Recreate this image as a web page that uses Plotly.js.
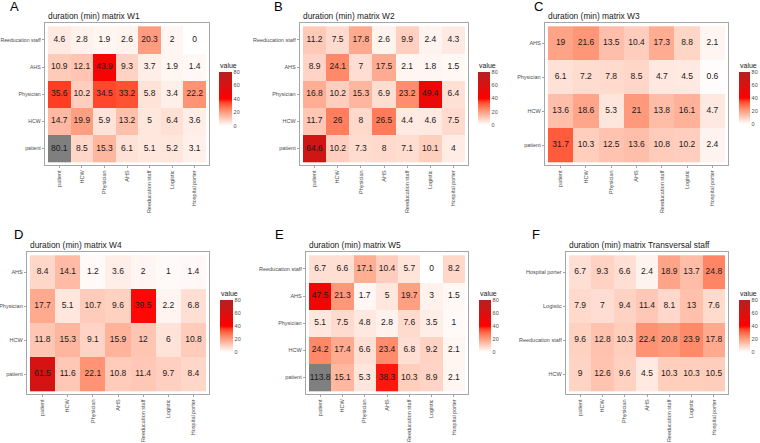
<!DOCTYPE html>
<html>
<head>
<meta charset="utf-8">
<script src="https://cdn.plot.ly/plotly-3.0.1.min.js"></script>
<style>html,body{margin:0;padding:0;background:#fff;}#chart{width:760px;height:443px;}</style>
</head>
<body>
<div id="chart"></div>
<script>
// ---------- DATA ----------
const xCats = ['patient', 'HCW', 'Physician', 'AHS', 'Reeducation staff', 'Logistic', 'Hospital porter'];

// rows listed bottom -> top
const rowsW1 = ['patient', 'HCW', 'Physician', 'AHS', 'Reeducation staff'];
const valsW1 = [
  [80.1, 8.5, 15.3, 6.1, 5.1, 5.2, 3.1],
  [14.7, 19.9, 5.9, 13.2, 5, 6.4, 3.6],
  [35.6, 10.2, 34.5, 33.2, 5.8, 3.4, 22.2],
  [10.9, 12.1, 43.9, 9.3, 3.7, 1.9, 1.4],
  [4.6, 2.8, 1.9, 2.6, 20.3, 2, 0]
];

const rowsW2 = ['patient', 'HCW', 'Physician', 'AHS', 'Reeducation staff'];
const valsW2 = [
  [64.6, 10.2, 7.3, 8, 7.1, 10.1, 4],
  [11.7, 26, 8, 26.5, 4.4, 4.6, 7.5],
  [16.8, 10.2, 15.3, 6.9, 23.2, 49.4, 6.4],
  [8.9, 24.1, 7, 17.5, 2.1, 1.8, 1.5],
  [11.2, 7.5, 17.8, 2.6, 9.9, 2.4, 4.3]
];

const rowsW3 = ['patient', 'HCW', 'Physician', 'AHS'];
const valsW3 = [
  [31.7, 10.3, 12.5, 13.6, 10.8, 10.2, 2.4],
  [13.6, 18.6, 5.3, 21, 13.8, 16.1, 4.7],
  [6.1, 7.2, 7.8, 8.5, 4.7, 4.5, 0.6],
  [19, 21.6, 13.5, 10.4, 17.3, 8.8, 2.1]
];

const rowsW4 = ['patient', 'HCW', 'Physician', 'AHS'];
const valsW4 = [
  [61.5, 11.6, 22.1, 10.8, 11.4, 9.7, 8.4],
  [11.8, 15.3, 9.1, 15.9, 12, 6, 10.8],
  [17.7, 5.1, 10.7, 9.6, 39.5, 2.2, 6.8],
  [8.4, 14.1, 1.2, 3.6, 2, 1, 1.4]
];

const rowsW5 = ['patient', 'HCW', 'Physician', 'AHS', 'Reeducation staff'];
const valsW5 = [
  [113.8, 15.1, 5.3, 38.3, 10.3, 8.9, 2.1],
  [24.2, 17.4, 6.6, 23.4, 6.8, 9.2, 2.1],
  [5.1, 7.5, 4.8, 2.8, 7.6, 3.5, 1],
  [47.5, 21.3, 1.7, 5, 19.7, 3, 1.5],
  [6.7, 6.6, 17.1, 10.4, 5.7, 0, 8.2]
];

const rowsTS = ['HCW', 'Reeducation staff', 'Logistic', 'Hospital porter'];
const valsTS = [
  [9, 12.6, 9.6, 4.5, 10.3, 10.3, 10.5],
  [9.6, 12.8, 10.3, 22.4, 20.8, 23.9, 17.8],
  [7.9, 7, 9.4, 11.4, 8.1, 13, 7.6],
  [6.7, 9.3, 6.6, 2.4, 18.9, 13.7, 24.8]
];

const titles = ['duration (min) matrix W1', 'duration (min) matrix W2', 'duration (min) matrix W3',
                'duration (min) matrix W4', 'duration (min) matrix W5', 'duration (min) matrix Transversal staff'];
const letters = ['A', 'B', 'C', 'D', 'E', 'F'];
const colorTicks = [0, 20, 40, 60, 80];

// ---------- LAYOUT GEOMETRY (pixels) ----------
const W = 760, H = 443;
const fx = p => p / W;
const fy = p => 1 - p / H;

const geo = [
  {box: [45, 23.3, 209, 165], cb: [219, 72, 232, 126], letter: [14.5, 7], tY: 15.5},
  {box: [300, 23.3, 468, 165], cb: [478, 72, 490, 125], letter: [278.5, 7], tY: 15.5},
  {box: [545, 23.3, 728, 165], cb: [739, 72, 750, 124], letter: [538, 7], tY: 15.5},
  {box: [27, 252.3, 209, 394], cb: [220, 300, 233, 352], letter: [18, 234.5], tY: 245},
  {box: [306, 252.3, 468, 394], cb: [479, 300, 491, 352], letter: [279, 234.5], tY: 245},
  {box: [566, 252.3, 728, 394], cb: [739, 300, 750, 352], letter: [536, 234.5], tY: 245}
];
const panelRows = [rowsW1, rowsW2, rowsW3, rowsW4, rowsW5, rowsTS];
const panelVals = [valsW1, valsW2, valsW3, valsW4, valsW5, valsTS];

const zMax = 80;
const colorscale = [
  [0, '#FFFFFF'], [0.0625, '#FFE7DE'], [0.125, '#FFCFBF'], [0.1875, '#FFB7A0'],
  [0.25, '#FF9E81'], [0.3125, '#FF8463'], [0.375, '#FF6746'], [0.4375, '#FF4528'],
  [0.5, '#FF0000'], [0.75, '#D91111'], [1, '#B22222']
];
const FONT = 'Liberation Sans, Arial, Helvetica, sans-serif';
const INSET = 3;

const traces = [];
const layout = {
  width: W, height: H,
  margin: {l: 0, r: 0, t: 0, b: 0, pad: 0},
  paper_bgcolor: '#FFFFFF', plot_bgcolor: '#FFFFFF',
  showlegend: false,
  font: {family: FONT, color: '#1A1A1A'},
  annotations: []
};

panelVals.forEach((vals, i) => {
  const rows = panelRows[i];
  const g = geo[i];
  const sfx = i === 0 ? '' : String(i + 1);
  const xa = 'x' + sfx, ya = 'y' + sfx;
  const [x0, y0, x1, y1] = g.box;
  const nx = xCats.length, ny = rows.length;
  const ex = INSET * nx / ((x1 - x0) - 2 * INSET);
  const ey = INSET * ny / ((y1 - y0) - 2 * INSET);

  const zMain = vals.map(r => r.map(v => (v > zMax ? null : v)));
  const zOver = vals.map(r => r.map(v => (v > zMax ? v : null)));
  const hasOver = vals.some(r => r.some(v => v > zMax));

  traces.push({
    type: 'heatmap', x: xCats, y: rows, z: zMain, xaxis: xa, yaxis: ya,
    zmin: 0, zmax: zMax, zauto: false, colorscale: colorscale, xgap: 0, ygap: 0,
    hoverinfo: 'skip',
    colorbar: {
      x: fx(g.cb[0]), xanchor: 'left', xpad: 0,
      y: fy((g.cb[1] + g.cb[3]) / 2), yanchor: 'middle', ypad: 0,
      len: g.cb[3] - g.cb[1], lenmode: 'pixels',
      thickness: g.cb[2] - g.cb[0], thicknessmode: 'pixels',
      outlinewidth: 0, tickvals: colorTicks, ticks: '',
      tickfont: {size: 5.5, color: '#4D4D4D', family: FONT}
    }
  });
  if (hasOver) {
    traces.push({
      type: 'heatmap', x: xCats, y: rows, z: zOver, xaxis: xa, yaxis: ya,
      colorscale: [[0, '#7F7F7F'], [1, '#7F7F7F']], showscale: false, hoverinfo: 'skip'
    });
  }
  const tx = [], ty = [], tt = [];
  vals.forEach((r, ri) => r.forEach((v, ci) => { tx.push(xCats[ci]); ty.push(rows[ri]); tt.push(String(v)); }));
  traces.push({
    type: 'scatter', mode: 'text', x: tx, y: ty, text: tt, xaxis: xa, yaxis: ya,
    textposition: 'middle center', cliponaxis: false, hoverinfo: 'skip',
    textfont: {size: 8.5, color: '#1A1A1A', family: FONT}
  });

  const axCommon = {
    showgrid: false, zeroline: false, showline: true, mirror: true,
    linecolor: '#A6A6A6', linewidth: 1, ticks: 'outside', ticklen: 2.2,
    tickcolor: '#8C8C8C', tickwidth: 0.8, fixedrange: true,
    tickfont: {size: 5.5, color: '#4D4D4D', family: FONT}, type: 'category'
  };
  layout['xaxis' + sfx] = Object.assign({}, axCommon, {
    domain: [fx(x0), fx(x1)], anchor: ya, range: [-0.5 - ex, nx - 0.5 + ex],
    categoryorder: 'array', categoryarray: xCats, tickangle: -90
  });
  layout['yaxis' + sfx] = Object.assign({}, axCommon, {
    domain: [fy(y1), fy(y0)], anchor: xa, range: [-0.5 - ey, ny - 0.5 + ey],
    categoryorder: 'array', categoryarray: rows,
    tickfont: {size: i === 0 ? 5.2 : 5.5, color: '#4D4D4D', family: FONT}
  });

  layout.annotations.push({
    xref: 'paper', yref: 'paper', x: fx(x0 + 1), y: fy(g.tY), xanchor: 'left', yanchor: 'middle',
    text: titles[i], showarrow: false, font: {size: 8.4, color: '#1A1A1A', family: FONT}
  });
  layout.annotations.push({
    xref: 'paper', yref: 'paper', x: fx(g.letter[0]), y: fy(g.letter[1]), xanchor: 'center', yanchor: 'middle',
    text: letters[i], showarrow: false, font: {size: 13, color: '#000000', family: FONT}
  });
  layout.annotations.push({
    xref: 'paper', yref: 'paper', x: fx(g.cb[0] - 1), y: fy(g.cb[1] - 1), xanchor: 'left', yanchor: 'bottom',
    text: 'value', showarrow: false, font: {size: 7, color: '#1A1A1A', family: FONT}
  });
});

Plotly.newPlot('chart', traces, layout, {staticPlot: true, displayModeBar: false});
</script>
</body>
</html>
